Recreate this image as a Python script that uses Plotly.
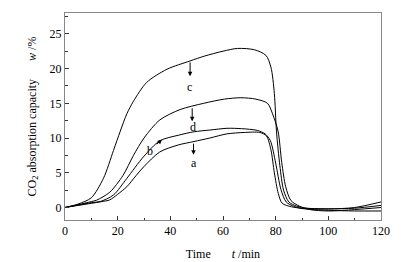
import plotly.graph_objects as go

# Curve a
t_a = [0, 5, 10, 14, 17, 20, 23.5, 27, 30, 36, 43, 49, 55, 61.5, 68, 74, 76.5, 78.2, 79.5, 81, 82.5, 86, 90, 100, 110, 120]
w_a = [0, 0.3, 0.6, 0.85, 1.1, 1.9, 3.0, 4.6, 5.9, 8.0, 9.0, 9.5, 10.0, 10.6, 10.8, 10.8, 10.3, 8.3, 5.0, 2.0, 0.6, 0.1, -0.1, -0.2, -0.1, 0.3]

# Curve b
t_b = [0, 5, 10, 13.3, 18.4, 23.5, 29.8, 36, 43, 49, 55, 61.5, 67, 73, 76, 78, 80, 82, 84, 87, 90, 100, 110, 120]
w_b = [0, 0.35, 0.7, 0.85, 1.8, 4.2, 7.3, 9.6, 10.4, 10.9, 11.15, 11.4, 11.35, 11.1, 10.6, 9.6, 6.4, 2.6, 0.8, 0.15, -0.15, -0.4, -0.5, -0.5]

# Curve c
t_c = [0, 5, 10, 14.6, 18.4, 21, 23.5, 26, 31, 38.7, 47.5, 53, 60, 65.5, 72, 76.3, 78.2, 79.5, 80.3, 81.6, 83, 85, 88, 92, 100, 110, 120]
w_c = [0, 0.5, 1.4, 4.2, 8.2, 11.0, 13.5, 15.3, 18.0, 19.9, 21.1, 21.8, 22.5, 22.9, 22.7, 21.9, 20.2, 16.4, 11.0, 6.0, 2.5, 0.8, 0.2, -0.1, -0.2, 0.0, 0.8]

# Curve d
t_d = [0, 5, 10, 12, 17, 22, 26, 30, 36, 43.7, 52.7, 60.5, 66.8, 72.5, 76.9, 78.8, 80.9, 82.3, 83.8, 85.8, 89, 93, 100, 110, 120]
w_d = [0, 0.4, 0.85, 1.05, 2.2, 4.6, 7.5, 10.0, 12.6, 14.1, 15.0, 15.6, 15.8, 15.6, 15.0, 13.5, 11.0, 6.5, 3.0, 1.0, 0.2, -0.3, -0.5, -0.3, 0.0]

x_ticks = [0, 20, 40, 60, 80, 100, 120]
y_ticks = [0, 5, 10, 15, 20, 25]

FONT = "Liberation Serif, Times New Roman, serif"

fig = go.Figure()
for t, w in [(t_a, w_a), (t_b, w_b), (t_c, w_c), (t_d, w_d)]:
    fig.add_trace(go.Scatter(x=t, y=w, mode="lines",
                             line=dict(color="black", width=1, shape="spline", smoothing=0.8),
                             showlegend=False, hoverinfo="skip"))

# arrows (tail on curve -> head near label) and labels
arrows = [
    # (tip_x, tip_y, tail_x, tail_y)
    (47.5, 18.9, 47.5, 21.1),   # c
    (48.3, 12.4, 48.3, 14.5),   # d
    (48.8, 7.6, 48.8, 9.4),     # a
    (36.8, 9.8, 34.3, 8.9),     # b
]
for x, y, ax, ay in arrows:
    fig.add_annotation(x=x, y=y, ax=ax, ay=ay, xref="x", yref="y", axref="x", ayref="y",
                       text="", showarrow=True, arrowhead=2, arrowsize=0.9, arrowwidth=1,
                       arrowcolor="black", standoff=0, startstandoff=0)

labels = [("c", 47.3, 17.4), ("d", 48.5, 11.6), ("a", 48.8, 6.4), ("b", 32.3, 8.2)]
for txt, x, y in labels:
    fig.add_annotation(x=x, y=y, xref="x", yref="y", text=txt, showarrow=False,
                       font=dict(family=FONT, size=12, color="black"))

axis_common = dict(showgrid=False, zeroline=False, showline=True, linecolor="#888888",
                   linewidth=1, mirror=True, ticks="inside", tickcolor="#333333",
                   ticklen=4, tickwidth=1, automargin=False,
                   tickfont=dict(family=FONT, size=12, color="black"))

fig.update_xaxes(range=[0, 120], tickvals=x_ticks, ticktext=[str(v) for v in x_ticks],
                 minor=dict(ticks="inside", dtick=10, tick0=0, ticklen=2.5, tickcolor="#333333"),
                 title=dict(text="Time" + "\u00a0" * 7 + "<i>t</i> /min",
                            font=dict(family=FONT, size=12, color="black"), standoff=12),
                 **axis_common)
fig.update_yaxes(range=[-1.8, 28], tickvals=y_ticks, ticktext=[str(v) for v in y_ticks],
                 minor=dict(ticks="inside", dtick=2.5, tick0=0, ticklen=2.5, tickcolor="#333333"),
                 title=dict(text="CO<sub>2</sub> absorption capacity" + "\u00a0" * 6 + "<i>w</i> /%",
                            font=dict(family=FONT, size=12, color="black"), standoff=10),
                 **axis_common)

fig.update_layout(width=408, height=262, margin=dict(l=65, r=27, t=13, b=42),
                  paper_bgcolor="white", plot_bgcolor="white")

fig.write_html("out.html", config={"displayModeBar": False, "staticPlot": True},
               post_script="document.body.style.margin='0';document.body.style.overflow='hidden';")
